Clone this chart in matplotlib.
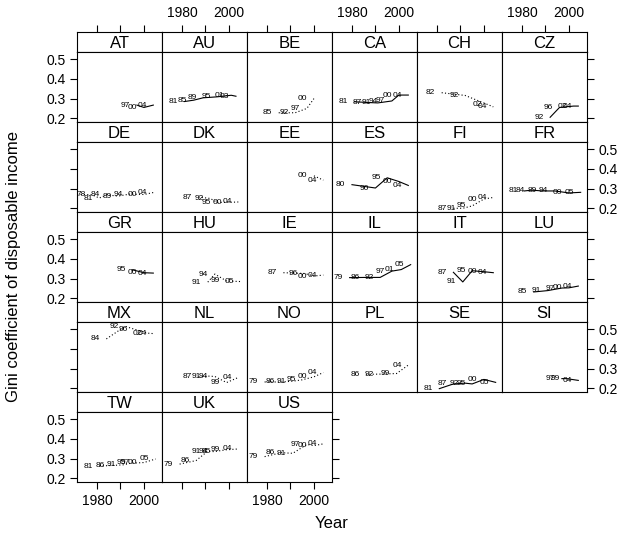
import matplotlib
matplotlib.use('Agg')
import matplotlib.pyplot as plt
from matplotlib import transforms

plt.rcParams['font.family'] = ['Liberation Sans', 'DejaVu Sans']

# countries in panel order (6 per row, left to right, top to bottom)
countries = ['AT', 'AU', 'BE', 'CA', 'CH', 'CZ',
             'DE', 'DK', 'EE', 'ES', 'FI', 'FR',
             'GR', 'HU', 'IE', 'IL', 'IT', 'LU',
             'MX', 'NL', 'NO', 'PL', 'SE', 'SI',
             'TW', 'UK', 'US']

years = [
    [1997, 2000, 2004],
    [1981, 1985, 1989, 1995, 2001, 2003],
    [1985, 1992, 1997, 2000],
    [1981, 1987, 1991, 1994, 1997, 2000, 2004],
    [1982, 1992, 2002, 2004],
    [1992, 1996, 2002, 2004],
    [1973, 1978, 1981, 1984, 1989, 1994, 2000, 2004],
    [1987, 1992, 1995, 2000, 2004],
    [2000, 2004],
    [1980, 1990, 1995, 2000, 2004],
    [1987, 1991, 1995, 2000, 2004],
    [1981, 1984, 1989, 1994, 2000, 2005],
    [1995, 2000, 2004],
    [1991, 1994, 1999, 2005],
    [1987, 1996, 2000, 2004],
    [1979, 1986, 1992, 1997, 2001, 2005],
    [1987, 1991, 1995, 2000, 2004],
    [1985, 1991, 1997, 2000, 2004],
    [1984, 1992, 1996, 2002, 2004],
    [1987, 1991, 1994, 1999, 2004],
    [1979, 1986, 1991, 1995, 2000, 2004],
    [1986, 1992, 1999, 2004],
    [1981, 1987, 1992, 1995, 2000, 2005],
    [1997, 1999, 2004],
    [1981, 1986, 1991, 1995, 1997, 2000, 2005],
    [1979, 1986, 1991, 1994, 1995, 1999, 2004],
    [1979, 1986, 1991, 1997, 2000, 2004],
]

gini = [
    [0.267, 0.255, 0.267],
    [0.285, 0.292, 0.304, 0.309, 0.317, 0.312],
    [0.228, 0.228, 0.250, 0.300],
    [0.284, 0.280, 0.278, 0.283, 0.288, 0.318, 0.318],
    [0.330, 0.316, 0.268, 0.258],
    [0.205, 0.255, 0.262, 0.262],
    [0.271, 0.268, 0.252, 0.268, 0.262, 0.272, 0.270, 0.280],
    [0.257, 0.250, 0.230, 0.230, 0.232],
    [0.365, 0.343],
    [0.320, 0.303, 0.355, 0.336, 0.316],
    [0.200, 0.200, 0.212, 0.247, 0.255],
    [0.288, 0.292, 0.288, 0.288, 0.278, 0.281],
    [0.345, 0.330, 0.328],
    [0.282, 0.323, 0.288, 0.285],
    [0.330, 0.326, 0.313, 0.318],
    [0.305, 0.306, 0.306, 0.338, 0.346, 0.371],
    [0.332, 0.283, 0.340, 0.335, 0.330],
    [0.232, 0.239, 0.252, 0.253, 0.262],
    [0.451, 0.515, 0.500, 0.480, 0.478],
    [0.258, 0.262, 0.260, 0.229, 0.255],
    [0.232, 0.232, 0.236, 0.243, 0.258, 0.280],
    [0.271, 0.272, 0.275, 0.318],
    [0.198, 0.222, 0.226, 0.222, 0.245, 0.230],
    [0.249, 0.249, 0.240],
    [0.262, 0.265, 0.268, 0.278, 0.278, 0.280, 0.298],
    [0.272, 0.290, 0.338, 0.335, 0.338, 0.345, 0.349],
    [0.310, 0.330, 0.327, 0.372, 0.366, 0.375],
]

# line type per country: True = solid, False = dotted
solid = [True, True, False, True, False, True,
         False, False, False, True, False, True,
         True, False, False, True, True, True,
         False, False, False, False, True, True,
         False, False, False]

xticks = [1980, 1990, 2000]
xticklabels = ['1980', '', '2000']
yticks = [0.2, 0.3, 0.4, 0.5]
yticklabels = ['0.2', '0.3', '0.4', '0.5']

W, H = 627, 534
fig = plt.figure(figsize=(W / 100, H / 100), dpi=100)

ncol, nrow = 6, 5
left0, colw = 77, 85
top0, rowh, striph, panelh = 32, 90, 20, 70
xlim = (1971.5, 2007.7)
ylim = (0.181, 0.537)


def box(x, y, w, h):
    return [x / W, 1 - (y + h) / H, w / W, h / H]


def style_axes(a):
    for s in a.spines.values():
        s.set_linewidth(0.8)
    a.tick_params(direction='out', length=5.3, width=0.8, labelsize=10, pad=3,
                  bottom=False, top=False, left=False, right=False,
                  labelbottom=False, labeltop=False, labelleft=False, labelright=False)


n = len(countries)
for i, cc in enumerate(countries):
    r, c = divmod(i, ncol)
    x = left0 + c * colw
    ys = top0 + r * rowh

    st = fig.add_axes(box(x, ys, colw, striph))
    st.set_xlim(xlim)
    st.set_yticks([])
    st.set_xticks(xticks)
    st.set_xticklabels(xticklabels)
    style_axes(st)
    st.text(0.5, 0.45, cc, ha='center', va='center', fontsize=12, transform=st.transAxes)
    if r == 0:
        st.tick_params(top=True, labeltop=(c % 2 == 1))

    ax = fig.add_axes(box(x, ys + striph, colw, panelh))
    ax.set_xlim(xlim)
    ax.set_ylim(ylim)
    ax.set_xticks(xticks)
    ax.set_xticklabels(xticklabels)
    ax.set_yticks(yticks)
    ax.set_yticklabels(yticklabels)
    style_axes(ax)

    if c == 0:
        ax.tick_params(left=True, labelleft=(r % 2 == 0))
    if c == ncol - 1 or i == n - 1:
        ax.tick_params(right=True, labelright=(r % 2 == 1 and c == ncol - 1))
    if r == nrow - 1:
        ax.tick_params(bottom=True, labelbottom=(c % 2 == 0))

    ls = '-' if solid[i] else (0, (1, 2))
    ax.plot(years[i], gini[i], color='black', lw=0.8, linestyle=ls)

    # year labels sit just left of each point, clipped to the panel
    off = transforms.offset_copy(ax.transData, fig=fig, x=-4.8, y=0, units='points')
    for yr, g in zip(years[i], gini[i]):
        ax.text(yr, g, '%02d' % (yr % 100), transform=off, fontsize=6,
                ha='right', va='center', clip_on=True)

fig.text(13.5 / W, 1 - 267 / H, 'Gini coefficient of disposable income',
         rotation=90, ha='center', va='center', fontsize=12)
fig.text(332 / W, 1 - 523 / H, 'Year', ha='center', va='center', fontsize=12)

fig.savefig('out.png', dpi=100)
